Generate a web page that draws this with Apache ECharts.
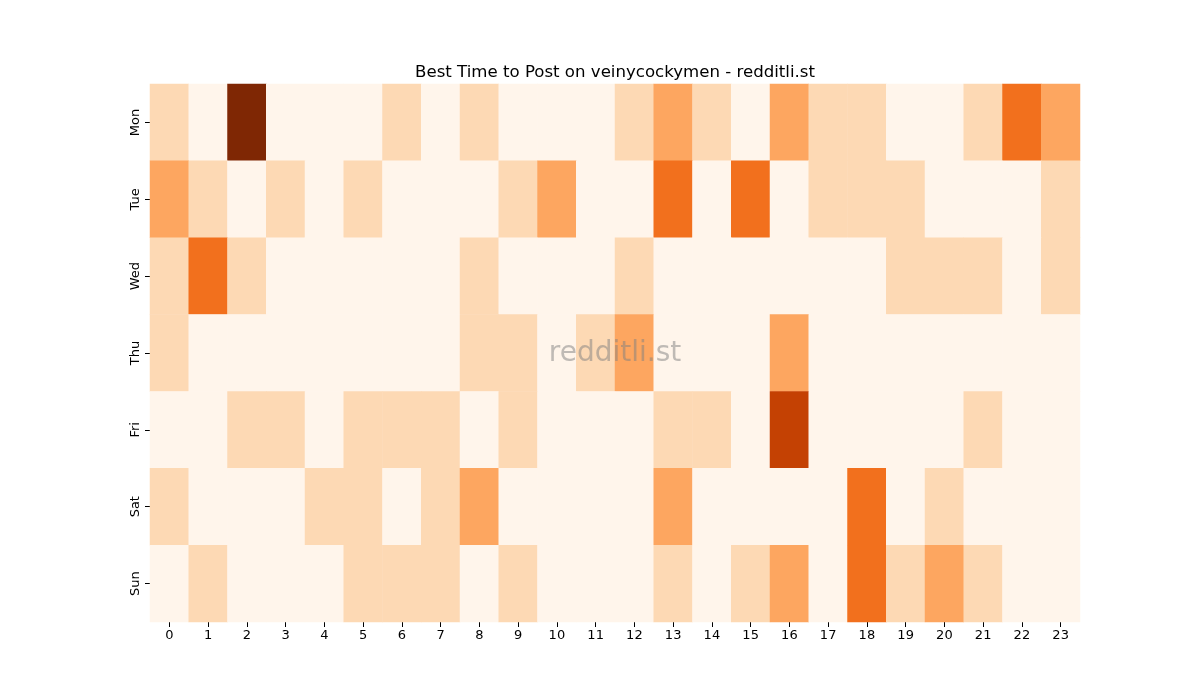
<!DOCTYPE html>
<html>
<head>
<meta charset="utf-8">
<script src="https://cdn.jsdelivr.net/npm/echarts@6/dist/echarts.min.js"></script>
<style>html,body{margin:0;padding:0;background:#fff;}#c{width:1200px;height:700px;}</style>
</head>
<body>
<div id="c"></div>
<script>
const hours = ['0','1','2','3','4','5','6','7','8','9','10','11','12','13','14','15','16','17','18','19','20','21','22','23'];
const days = ['Mon','Tue','Wed','Thu','Fri','Sat','Sun'];
const mon = [1,0,5,0,0,0,1,0,1,0,0,0,1,2,1,0,2,1,1,0,0,1,3,2];
const tue = [2,1,0,1,0,1,0,0,0,1,2,0,0,3,0,3,0,1,1,1,0,0,0,1];
const wed = [1,3,1,0,0,0,0,0,1,0,0,0,1,0,0,0,0,0,0,1,1,1,0,1];
const thu = [1,0,0,0,0,0,0,0,1,1,0,1,2,0,0,0,2,0,0,0,0,0,0,0];
const fri = [0,0,1,1,0,1,1,1,0,1,0,0,0,1,1,0,4,0,0,0,0,1,0,0];
const sat = [1,0,0,0,1,1,0,1,2,0,0,0,0,2,0,0,0,0,3,0,1,0,0,0];
const sun = [0,1,0,0,0,1,1,1,0,1,0,0,0,1,0,1,2,0,3,1,2,1,0,0];
const levelColors = ['#fff5eb','#fdd9b4','#fda660','#f2701d','#c44103','#7f2704'];

const rows = [mon,tue,wed,thu,fri,sat,sun];
const data = [];
rows.forEach((r, yi) => r.forEach((v, xi) => data.push([xi, yi, v])));

const chart = echarts.init(document.getElementById('c'));
const font = 'DejaVu Sans';
chart.setOption({
  animation: false,
  backgroundColor: '#fff',
  title: {
    text: 'Best Time to Post on veinycockymen - redditli.st',
    left: 610, top: 59, textAlign: 'center',
    textStyle: {fontFamily: font, fontSize: 16.6, fontWeight: 'normal', color: '#000'}
  },
  grid: {left: 150, top: 84, width: 930, height: 538},
  xAxis: {
    type: 'category', data: hours, position: 'bottom',
    axisLine: {show: false},
    axisTick: {show: true, alignWithLabel: true, length: 5, lineStyle: {color: '#000'}},
    axisLabel: {fontFamily: font, fontSize: 13, color: '#000', margin: 7},
    splitArea: {show: false}, splitLine: {show: false}
  },
  yAxis: {
    type: 'category', data: days, inverse: true,
    axisLine: {show: false},
    axisTick: {show: true, alignWithLabel: true, length: 5, lineStyle: {color: '#000'}},
    axisLabel: {fontFamily: font, fontSize: 13, color: '#000', rotate: 90, margin: 8},
    splitArea: {show: false}, splitLine: {show: false}
  },
  visualMap: {
    show: false, type: 'piecewise', dimension: 2,
    pieces: levelColors.map((c, i) => ({value: i, color: c}))
  },
  series: [{
    type: 'heatmap', data: data,
    itemStyle: {borderWidth: 0},
    emphasis: {disabled: true}
  }],
  graphic: [{
    type: 'text', z: 100,
    x: 615, y: 354,
    style: {text: 'redditli.st', fontFamily: font, fontSize: 28, fill: 'rgba(128,128,128,0.5)', align: 'center', verticalAlign: 'middle'}
  }]
});
</script>
</body>
</html>
